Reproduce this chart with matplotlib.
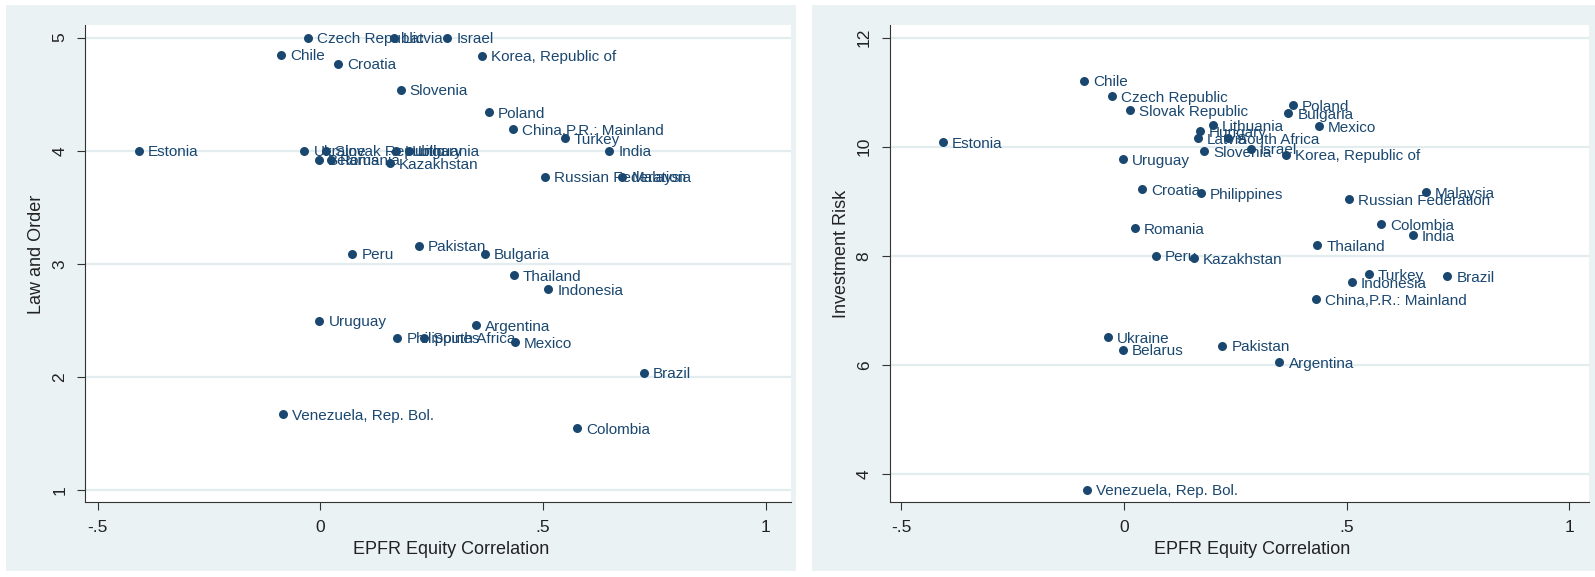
import matplotlib.pyplot as plt
from matplotlib.patches import Rectangle

plt.rcParams['font.family'] = ['Liberation Sans', 'DejaVu Sans']

countries = ['Argentina', 'Belarus', 'Brazil', 'Bulgaria', 'Chile', 'China,P.R.: Mainland',
             'Colombia', 'Croatia', 'Czech Republic', 'Estonia', 'Hungary', 'India',
             'Indonesia', 'Israel', 'Kazakhstan', 'Korea, Republic of', 'Latvia', 'Lithuania',
             'Malaysia', 'Mexico', 'Pakistan', 'Peru', 'Philippines', 'Poland', 'Romania',
             'Russian Federation', 'Slovak Republic', 'Slovenia', 'South Africa', 'Thailand',
             'Turkey', 'Ukraine', 'Uruguay', 'Venezuela, Rep. Bol.']
epfr_corr = [0.349, -0.003, 0.726, 0.369, -0.089, 0.432,
             0.577, 0.040, -0.028, -0.407, 0.170, 0.649,
             0.512, 0.285, 0.156, 0.364, 0.165, 0.199,
             0.678, 0.437, 0.221, 0.072, 0.173, 0.379, 0.024,
             0.505, 0.013, 0.180, 0.233, 0.434,
             0.549, -0.036, -0.002, -0.083]
law_order = [2.46, 3.92, 2.04, 3.09, 4.85, 4.19,
             1.55, 4.77, 5.0, 4.0, 4.0, 4.0,
             2.78, 5.0, 3.89, 4.84, 5.0, 4.0,
             3.77, 2.31, 3.16, 3.09, 2.35, 4.34, 3.92,
             3.77, 4.0, 4.54, 2.35, 2.90,
             4.11, 4.0, 2.50, 1.67]
invest_risk = [6.05, 6.28, 7.63, 10.61, 11.21, 7.20,
               8.58, 9.22, 10.92, 10.08, 10.28, 8.38,
               7.51, 9.96, 7.95, 9.85, 10.15, 10.39,
               9.16, 10.38, 6.35, 8.00, 9.15, 10.76, 8.50,
               9.04, 10.67, 9.92, 10.15, 8.19,
               7.66, 6.51, 9.77, 3.71]

x_ticks = [-0.5, 0, 0.5, 1]
x_ticklabels = ['-.5', '0', '.5', '1']

navy = '#1a476f'
bg = '#eaf2f3'
W, H = 1595, 577


def box(x0, y0, x1, y1):
    return [x0 / W, 1 - y1 / H, (x1 - x0) / W, (y1 - y0) / H]


fig = plt.figure(figsize=(W / 100, H / 100), dpi=100)
for b in [box(6, 5, 796, 571), box(812, 5, 1595, 571)]:
    fig.add_artist(Rectangle((b[0], b[1]), b[2], b[3], transform=fig.transFigure,
                             facecolor=bg, edgecolor='none', zorder=-5))

ax1 = fig.add_axes(box(85.3, 25, 791, 502.3))
ax2 = fig.add_axes(box(889.8, 25, 1589, 502.3))

panels = [
    (ax1, law_order, 'Law and Order', [1, 2, 3, 4, 5], (-0.528, 1.057), (0.894, 5.111)),
    (ax2, invest_risk, 'Investment Risk', [4, 6, 8, 10, 12], (-0.526, 1.044), (3.48, 12.23)),
]

for ax, yvals, ylab, yticks, xlim, ylim in panels:
    ax.set_zorder(2)
    ax.set_facecolor('white')
    ax.scatter(epfr_corr, yvals, s=42, color=navy, linewidths=0, zorder=3)
    for name, xv, yv in zip(countries, epfr_corr, yvals):
        ax.annotate(name, (xv, yv), xytext=(6.5, -1.2), textcoords='offset points',
                    ha='left', va='center', fontsize=11, color=navy, zorder=4)
    ax.set_xlim(*xlim)
    ax.set_ylim(*ylim)
    ax.set_xticks(x_ticks)
    ax.set_xticklabels(x_ticklabels)
    ax.set_yticks(yticks)
    ax.set_yticklabels([str(t) for t in yticks], rotation=90, va='center')
    ax.tick_params(axis='both', length=6, width=0.8, color='#333333', labelsize=12.5,
                   labelcolor='#222222', pad=7)
    ax.yaxis.grid(True, color='#e3edf0', linewidth=1.6)
    ax.set_axisbelow(True)
    for s in ['top', 'right']:
        ax.spines[s].set_visible(False)
    for s in ['left', 'bottom']:
        ax.spines[s].set_color('#333333')
        ax.spines[s].set_linewidth(0.8)
    ax.set_xlabel('EPFR Equity Correlation', fontsize=13, color='#222222', labelpad=4)
    ax.set_ylabel(ylab, fontsize=13, color='#222222', labelpad=5)
    ax.xaxis.label.set_x(0.518)
    ax.yaxis.label.set_y(0.52)

fig.savefig('out.png', dpi=100)
